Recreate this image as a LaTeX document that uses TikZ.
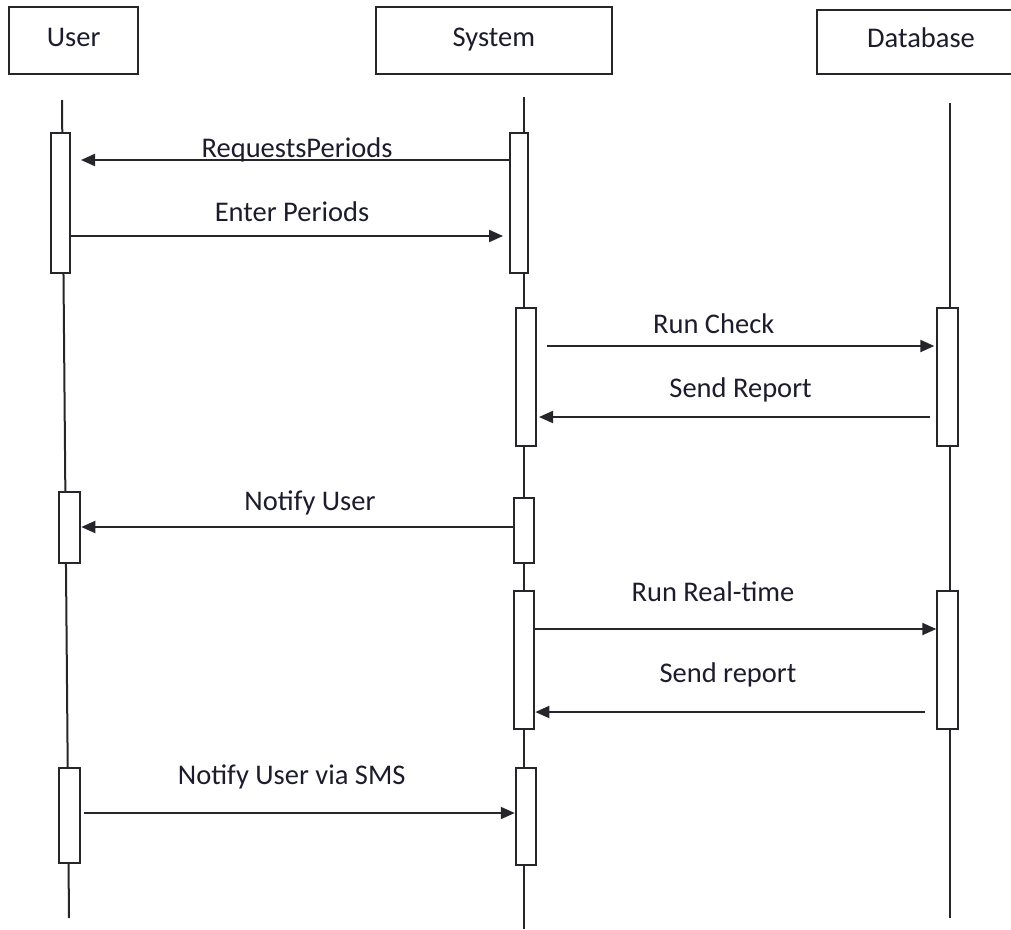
\documentclass[tikz,border=0pt]{standalone}
\usepackage{fontspec}
\setmainfont{Carlito}
\usetikzlibrary{arrows.meta}
\definecolor{ink}{RGB}{38,38,42}
\definecolor{txt}{RGB}{28,28,44}
\begin{document}
\begin{tikzpicture}[x=1pt,y=-1pt,
  every node/.style={font=\fontsize{28.5}{34}\selectfont, text=txt},
  head/.style={draw=ink, line width=2pt, fill=white, inner sep=0pt,
               text height=17pt, text depth=5pt},
  life/.style={draw=ink, line width=2pt},
  act/.style={draw=ink, line width=2pt, fill=white, inner sep=0pt},
  msg/.style={draw=ink, line width=2pt, -{Triangle[length=14pt,width=12pt]}},
  lbl/.style={anchor=base, inner sep=0pt}
]
\useasboundingbox (0,0) rectangle (1011,929);

% participant heads
\node[head, minimum width=128.7pt, minimum height=66.7pt] (user) at (73.7,40.6) {User};
\node[head, minimum width=236.3pt, minimum height=66.7pt] (sys) at (493.9,40.6) {System};
\node[head, minimum width=208pt, minimum height=64.3pt] (db) at (921,41.9) {Database};

% lifelines
\coordinate (uTop) at (62,100);  \coordinate (uBot) at (69,918);
\coordinate (sTop) at (524,97);  \coordinate (sBot) at (524,929);
\coordinate (dTop) at (950,103); \coordinate (dBot) at (950,918);
\draw[life] (uTop) -- (uBot);
\draw[life] (sTop) -- (sBot);
\draw[life] (dTop) -- (dBot);

% activation bars
\node[act, minimum width=19pt,   minimum height=140pt]  (u1) at (60.5,203) {};
\node[act, minimum width=18.3pt, minimum height=140pt]  (s1) at (518.9,203) {};
\node[act, minimum width=20.6pt, minimum height=138pt]  (s2) at (526,377) {};
\node[act, minimum width=21pt,   minimum height=138pt]  (d1) at (947.8,377) {};
\node[act, minimum width=21pt,   minimum height=70.4pt] (u2) at (69.8,527.5) {};
\node[act, minimum width=20.6pt, minimum height=64.7pt] (s3) at (524,530.4) {};
\node[act, minimum width=20.6pt, minimum height=138pt]  (s4) at (524,659.7) {};
\node[act, minimum width=21pt,   minimum height=138pt]  (d2) at (947.8,659.7) {};
\node[act, minimum width=21pt,   minimum height=95pt]   (u3) at (69.8,815.8) {};
\node[act, minimum width=20.3pt, minimum height=96.7pt] (s5) at (525.9,816.7) {};

% messages
\draw[msg, shorten >=10pt]  (s1.west |- 0,160) -- (u1.east |- 0,160);
\draw[msg, shorten >=5.7pt] (u1.east |- 0,236) -- (s1.west |- 0,236);
\draw[msg, shorten <=9.4pt, shorten >=2pt] (s2.east |- 0,346) -- (d1.west |- 0,346);
\draw[msg, shorten <=6.6pt, shorten >=1.7pt] (d1.west |- 0,417) -- (s2.east |- 0,417);
\draw[msg] (s3.west |- 0,527) -- (u2.east |- 0,527);
\draw[msg] (s4.east |- 0,629) -- (d2.west |- 0,629);
\draw[msg, shorten <=11pt] (d2.west |- 0,712) -- (s4.east |- 0,712);
\draw[msg, shorten <=2.3pt] (u3.east |- 0,813) -- (s5.west |- 0,813);

% message labels
\node[lbl] (m1) at (297,157)     {RequestsPeriods};
\node[lbl] (m2) at (292,221)     {Enter Periods};
\node[lbl] (m3) at (713.7,333.7) {Run Check};
\node[lbl] (m4) at (740.6,397)   {Send Report};
\node[lbl] (m5) at (310,510)     {Notify User};
\node[lbl] (m6) at (713,601)     {Run Real-time};
\node[lbl] (m7) at (728,682)     {Send report};
\node[lbl] (m8) at (291.7,784)   {Notify User via SMS};
\end{tikzpicture}
\end{document}
